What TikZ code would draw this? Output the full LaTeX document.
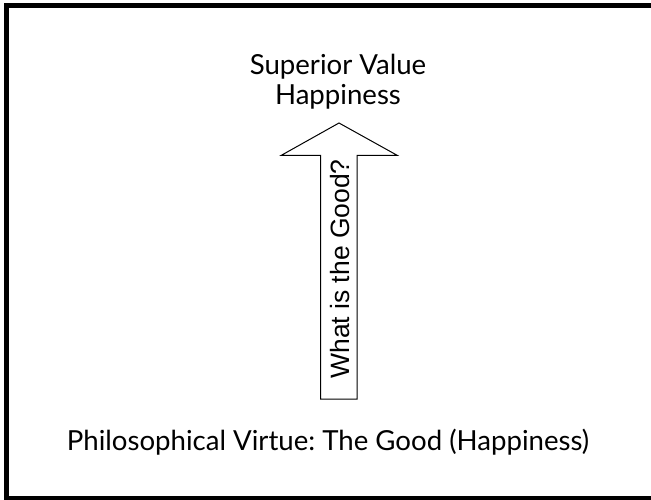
\documentclass[tikz,border=0pt]{standalone}
\usepackage{fontspec}
\usepackage{tikz}
\usetikzlibrary{calc,positioning}
\newfontfamily\titlefont{Lato}
\newfontfamily\askfont{Liberation Sans}
\frenchspacing
\tikzset{
  vframe/.style={draw=black, line width=5pt},
  vtitle/.style={font=\titlefont\fontsize{27.6}{30}\selectfont, align=center, inner sep=0pt},
  varrow/.style={draw=black, fill=white, line width=1pt, line join=miter},
  vask/.style={font=\askfont\fontsize{26.5}{28}\selectfont, inner sep=0pt},
}
\begin{document}
\begin{tikzpicture}[x=1pt,y=-1pt]
  \useasboundingbox (0,0) rectangle (651,500);
  \clip (0,0) rectangle (651,500);
  \fill[white] (0,0) rectangle (651,500);

  % frame
  \draw[vframe] (6.5,5.5) rectangle (662,498.5);

  % top value
  \node[vtitle, anchor=base] (sup) at (338,75) {Superior Value};
  \node[vtitle, anchor=base] (hap) at (338,105) {Happiness};

  % bottom value
  \node[vtitle, anchor=base] (phil) at (328,450) {Philosophical Virtue: The Good (Happiness)};

  % block arrow
  \coordinate (tail) at (338.75,399);
  \coordinate (tip) at (339,123);
  \draw[varrow] ($(tail)+(-18.25,0)$) -- ($(tip)+(-18.5,32.5)$)
        -- ($(tip)+(-58,32.5)$) -- (tip) -- ($(tip)+(58.5,32.5)$)
        -- ($(tip)+(18,32.5)$) -- ($(tail)+(18.25,0)$) -- cycle;
  \node[vask, rotate=90, anchor=base] (ask) at (349.3,269) {What is the Good?};
\end{tikzpicture}
\end{document}
